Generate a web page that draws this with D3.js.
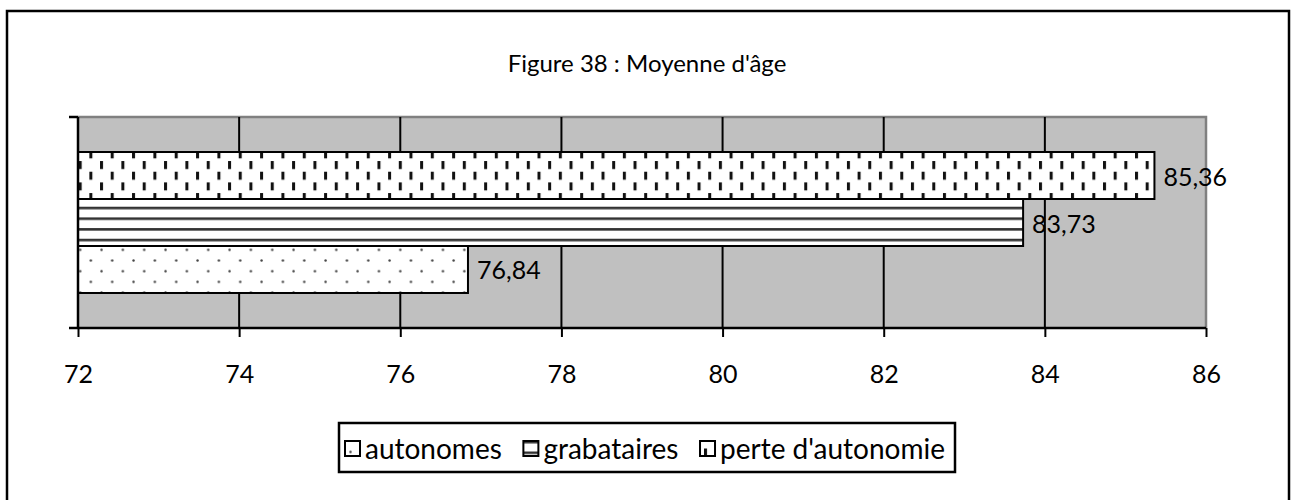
<!DOCTYPE html>
<html><head><meta charset="utf-8">
<script src="https://cdn.jsdelivr.net/npm/d3@7"></script>
<style>
html,body{margin:0;padding:0;background:#fff;}
svg{display:block;font-family:Lato,"Open Sans",sans-serif;}
</style></head>
<body>
<svg id="chart" width="1291" height="500"></svg>
<script>
// ---- data ----
const title = "Figure 38 : Moyenne d'âge";
const seriesNames = ["autonomes", "grabataires", "perte d'autonomie"];
const seriesValues = [76.84, 83.73, 85.36];
const xTicks = [72, 74, 76, 78, 80, 82, 84, 86];
const patternIds = ["pDots", "pHoriz", "pVdash"];

// ---- layout ----
const plot = {left: 78, right: 1206, top: 117, bottom: 328};
const fontSize = 25;

const svg = d3.select("#chart");
const defs = svg.append("defs");

// patterns
const step = 10.67;
const pd = defs.append("pattern").attr("id", "pDots").attr("patternUnits", "userSpaceOnUse")
  .attr("width", step * 2).attr("height", step * 2).attr("x", 4).attr("y", 3);
pd.append("rect").attr("width", step * 2).attr("height", step * 2).attr("fill", "#fff");
pd.append("circle").attr("cx", 1.5).attr("cy", 1.5).attr("r", 1.2).attr("fill", "#444");
pd.append("circle").attr("cx", 1.5 + step).attr("cy", 1.5 + step).attr("r", 1.2).attr("fill", "#444");

const ph = defs.append("pattern").attr("id", "pHoriz").attr("patternUnits", "userSpaceOnUse")
  .attr("width", 20).attr("height", step).attr("x", 0).attr("y", 4);
ph.append("rect").attr("width", 20).attr("height", step).attr("fill", "#fff");
ph.append("rect").attr("y", 0).attr("width", 20).attr("height", 2.6).attr("fill", "#333");

const pv = defs.append("pattern").attr("id", "pVdash").attr("patternUnits", "userSpaceOnUse")
  .attr("width", step * 2).attr("height", step * 2).attr("x", 4).attr("y", 1);
pv.append("rect").attr("width", step * 2).attr("height", step * 2).attr("fill", "#fff");
pv.append("rect").attr("x", 0).attr("y", 0).attr("width", 3).attr("height", 8).attr("fill", "#111");
pv.append("rect").attr("x", step).attr("y", step).attr("width", 3).attr("height", 8).attr("fill", "#111");

// outer border
svg.append("rect").attr("x", 7).attr("y", 11).attr("width", 1282).attr("height", 500)
  .attr("fill", "#fff").attr("stroke", "#000").attr("stroke-width", 2.5);

// title
svg.append("text").attr("x", 647).attr("y", 62).attr("text-anchor", "middle")
  .attr("dominant-baseline", "central").attr("font-size", 24).attr("fill", "#000").text(title);

// scales
const x = d3.scaleLinear().domain([xTicks[0], xTicks[xTicks.length - 1]]).range([plot.left, plot.right]);
const y = d3.scaleBand().domain(seriesNames.slice().reverse()).range([plot.top, plot.bottom])
  .paddingInner(0).paddingOuter(0.745);

// plot background
svg.append("rect").attr("x", plot.left).attr("y", plot.top)
  .attr("width", plot.right - plot.left).attr("height", plot.bottom - plot.top).attr("fill", "#c0c0c0");
// plot border (gray top/right)
svg.append("path").attr("d", `M${plot.left},${plot.top}H${plot.right}V${plot.bottom}`)
  .attr("fill", "none").attr("stroke", "#808080").attr("stroke-width", 2.5);

// gridlines
svg.append("g").selectAll("line").data(xTicks.slice(1, -1)).join("line")
  .attr("x1", d => x(d)).attr("x2", d => x(d)).attr("y1", plot.top).attr("y2", plot.bottom)
  .attr("stroke", "#000").attr("stroke-width", 2);

// bars
const data = seriesNames.map((n, i) => ({name: n, value: seriesValues[i], pat: patternIds[i]}));
svg.append("g").selectAll("rect").data(data).join("rect")
  .attr("x", x(xTicks[0])).attr("y", d => y(d.name))
  .attr("width", d => x(d.value) - x(xTicks[0])).attr("height", y.bandwidth())
  .attr("fill", d => `url(#${d.pat})`).attr("stroke", "#000").attr("stroke-width", 2);

// value labels
svg.append("g").selectAll("text").data(data).join("text")
  .attr("x", d => x(d.value) + 9).attr("y", d => y(d.name) + y.bandwidth() / 2)
  .attr("dominant-baseline", "central").attr("font-size", fontSize).attr("fill", "#000")
  .text(d => d3.format(".2f")(d.value).replace(".", ","));

// x axis
const xAxis = d3.axisBottom(x).tickValues(xTicks).tickSize(9).tickPadding(28).tickFormat(d3.format("d"));
const gx = svg.append("g").attr("transform", `translate(0,${plot.bottom})`).call(xAxis);
gx.select(".domain").attr("d", `M${plot.left - 9},0H${plot.right}`).attr("stroke", "#000").attr("stroke-width", 2.5);
gx.selectAll(".tick line").attr("stroke", "#000").attr("stroke-width", 2);
gx.selectAll(".tick text").attr("font-size", fontSize).attr("font-family", "Lato,sans-serif").attr("fill", "#000");

// y axis (left line + end ticks)
svg.append("line").attr("x1", plot.left).attr("x2", plot.left).attr("y1", plot.top).attr("y2", plot.bottom)
  .attr("stroke", "#000").attr("stroke-width", 2.5);
svg.append("line").attr("x1", plot.left - 9).attr("x2", plot.left).attr("y1", plot.top).attr("y2", plot.top)
  .attr("stroke", "#000").attr("stroke-width", 2.5);

// legend
const legend = {left: 339, top: 423, width: 616, height: 49, textStart: 365, textEnd: 945};
svg.append("rect").attr("x", legend.left).attr("y", legend.top).attr("width", legend.width).attr("height", legend.height)
  .attr("fill", "#fff").attr("stroke", "#000").attr("stroke-width", 2.5);
const lg = svg.append("g");
const icon = 15, gapIconText = 5;
const items = lg.selectAll("g").data(data).join("g");
items.append("rect").attr("width", icon).attr("height", icon).attr("y", -icon / 2 + 1)
  .attr("fill", d => `url(#${d.pat})`).attr("stroke", "#000").attr("stroke-width", 2);
const texts = items.append("text").attr("x", icon + gapIconText).attr("dominant-baseline", "central")
  .attr("font-size", 28).attr("fill", "#000").text(d => d.name);
let tw = [];
texts.each(function() { tw.push(this.getComputedTextLength()); });
const itemW = icon + gapIconText;
const gapItems = ((legend.textEnd - legend.textStart) - d3.sum(tw) - (tw.length - 1) * itemW) / (tw.length - 1);
let cx = legend.textStart - itemW;
items.attr("transform", (d, i) => {
  const t = `translate(${cx},${legend.top + legend.height / 2})`;
  cx += itemW + tw[i] + gapItems;
  return t;
});
</script>
</body></html>
